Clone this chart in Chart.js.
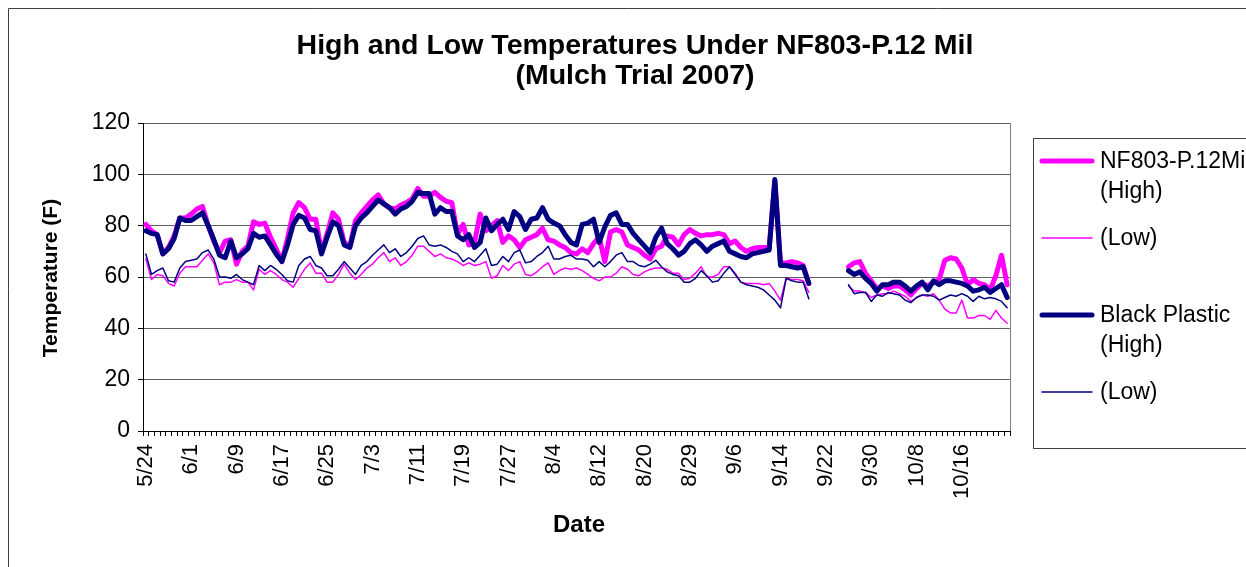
<!DOCTYPE html>
<html>
<head>
<meta charset="utf-8">
<title>High and Low Temperatures Under NF803-P.12 Mil</title>
<script src="https://cdn.jsdelivr.net/npm/chart.js@4.4.0/dist/chart.umd.min.js"></script>
<style>
  html, body { margin: 0; padding: 0; background: #fff; overflow: hidden; }
  canvas { display: block; }
</style>
</head>
<body>
<canvas id="chart" width="1246" height="567"></canvas>
<script>
// Daily readings, 5/24 - 10/24 2007 (one reading day missing in late August,
// logger offline 9/20 - 9/25).
const FIRST_DAY = [2007, 4, 24];
const MISSING_DAYS = ['8/25'];
const DAY_COUNT = 153;
const LABEL_EVERY = 8;
const LAST_LABELLED = 144;

const yTicks = { min: 0, max: 120, step: 20 };

const nfHigh = [
  80.5, 78, 76.5, 69, 71.5, 76, 83, 83, 84.5, 86.5, 87.5, 80, 74, 69.5, 74, 74.5, 65, 70, 72, 81.5,
  80.5, 81, 75.5, 71, 66, 75, 85, 89, 87, 82.5, 82.5, 69.5, 77, 85, 82.5, 73.5, 72, 82, 85, 87.5,
  90, 92, 88.5, 87, 86.5, 88, 89, 90.5, 94.5, 91.5, 91.5, 93, 91, 89.5, 89, 76.5, 80.5, 72.5, 73.5, 84.5,
  78, 80, 82, 73.5, 76, 74.5, 71.5, 74.5, 75.5, 76.5, 79, 74.5, 74, 72.5, 71.5, 69.5, 69, 71, 69.5, 73,
  75.5, 66, 77.5, 78.5, 77.5, 72.5, 71.5, 70.5, 68.5, 67, 71, 72, 76, 75.5, 72.5, 76.5, 78.5, 77, 76, 76.5,
  76.5, 77, 76.5, 73, 74, 71.5, 70, 71, 71.5, 71.5, 71.5, 97, 65.5, 65.5, 66, 65.5, 64.5, 57.5,
  null, null, null, null, null, null,
  64, 65.5, 66, 61.5, 58.5, 55.5, 56.5, 55.5, 56.5, 56.5, 55, 53, 55.5, 57.5, 56.5, 58, 59, 66.5, 67.5, 67,
  63.5, 57, 59, 57.5, 57, 55, 60.5, 68.5, 57
];

const nfLow = [
  67, 59, 61, 60.5, 57.5, 56.5, 61.5, 64, 64, 64, 66.5, 69, 65.5, 57, 58, 58, 59, 58, 58, 55,
  63, 61, 62.5, 61, 59, 58, 56, 59.5, 63, 65.5, 61.5, 61.5, 58, 58, 61, 65, 61.5, 59, 61, 63.5,
  65, 67.5, 69.5, 66, 67.5, 64.5, 66, 68.5, 72, 72, 70, 68, 69, 67.5, 67, 66, 64.5, 65.5, 64.5, 65,
  66, 59.5, 60.5, 64.5, 62.5, 65, 66, 61, 60.5, 62, 64, 65.5, 61, 62.5, 63.5, 63, 63.5, 62.5, 61, 59.5,
  58.5, 60, 60, 61.5, 64, 63, 61, 60.5, 62, 63, 63.5, 63.5, 63, 61.5, 61.5, 59, 59.5, 61.5, 64, 60,
  60, 61, 64, 64, 61.5, 58, 57.5, 57.5, 57.5, 57, 57.5, 54.5, 51, 59.5, 59, 59, 58.5, 54,
  null, null, null, null, null, null,
  56.5, 54.5, 54.5, 54, 52, 53, 53.5, 53.5, 54.5, 53.5, 52.5, 50.5, 52, 53, 52.5, 53.5, 51, 47.5, 46, 46,
  51, 44, 44, 45, 45, 43.5, 47, 44, 42
];

const bpHigh = [
  78, 77, 76.5, 69, 71, 75, 83, 82, 82, 83.5, 85, 80, 74.5, 68.5, 67.5, 74, 67.5, 69, 71, 77,
  75.5, 76, 72.5, 69, 66, 72.5, 80.5, 84, 83, 78.5, 78, 69, 75.5, 81.5, 80, 72.5, 71.5, 80, 83, 85,
  87.5, 90, 88.5, 87, 84.5, 86.5, 87.5, 89.5, 93, 92.5, 92.5, 84.5, 87, 85.5, 85.5, 76, 74.5, 76.5, 71.5, 73.5,
  83, 78, 80.5, 82.5, 78.5, 85.5, 83.5, 78.5, 82.5, 83, 87, 82.5, 81, 80, 76.5, 73.5, 72.5, 80.5, 81, 82.5,
  73.5, 79.5, 84, 85, 80.5, 80.5, 77, 74.5, 72, 69.5, 75.5, 79, 73, 71, 68.5, 70, 73, 74.5, 72.5, 70,
  72, 73, 74, 70, 69, 68, 67.5, 69, 69.5, 70, 70.5, 98, 64.5, 64.5, 64, 63.5, 64, 57.5,
  null, null, null, null, null, null,
  62.5, 61, 62, 59.5, 57.5, 54.5, 57, 57, 58, 58, 56.5, 54.5, 56.5, 58, 55, 58.5, 57, 58.5, 58.5, 58,
  57.5, 56.5, 54.5, 55, 56, 54, 55.5, 57, 52
];

const bpLow = [
  69, 61, 62.5, 63.5, 58.5, 58, 63.5, 66, 66.5, 67, 69.5, 70.5, 67, 60, 60, 59.5, 61, 59, 58, 57,
  64.5, 62.5, 64.5, 63, 61, 58.5, 58, 64.5, 67, 68, 64.5, 63.5, 60.5, 60.5, 63, 66, 63.5, 61, 64.5, 66,
  68.5, 70.5, 72.5, 69.5, 71, 68, 69.5, 72, 75, 76, 72.5, 72, 72.5, 71.5, 70, 69, 66, 67.5, 66, 68.5,
  71, 64.5, 65, 68, 66, 69.5, 70.5, 65.5, 66, 68, 69.5, 72, 67, 67, 68, 68.5, 67, 67, 66.5, 64,
  66, 64, 66, 68.5, 69.5, 66, 66, 64.5, 64, 65, 66.5, 64, 62, 61, 60.5, 58, 58, 59.5, 62.5, 60.5,
  58, 58.5, 61.5, 64, 61, 58, 57, 56.5, 56, 55, 53, 51, 48, 59.5, 58.5, 58, 58, 51.5,
  null, null, null, null, null, null,
  57, 53.5, 54, 54, 50.5, 53, 52.5, 54, 53.5, 53, 51, 50, 52, 53, 53, 52.5, 51, 52, 53, 52.5,
  53.5, 52.5, 50.5, 52.5, 51.5, 52, 51.5, 50.5, 48
];

const seriesNames = ['NF803-P.12Mil (High)', '(Low)', 'Black Plastic (High)', '(Low)'];
const legendLines = [['NF803-P.12Mil', '(High)'], ['(Low)'], ['Black Plastic', '(High)'], ['(Low)']];
const titleLines = ['High and Low Temperatures Under NF803-P.12 Mil', '(Mulch Trial 2007)'];
const yTitle = 'Temperature (F)';
const xTitle = 'Date';

// Reading-day labels (m/d)
function readingDays() {
  const out = [];
  for (let d = 0; out.length < DAY_COUNT; d++) {
    const dt = new Date(FIRST_DAY[0], FIRST_DAY[1], FIRST_DAY[2] + d);
    const s = (dt.getMonth() + 1) + '/' + dt.getDate();
    if (!MISSING_DAYS.includes(s)) out.push(s);
  }
  return out;
}
const days = readingDays();

const FONT = "'Liberation Sans', Arial, sans-serif";
const PINK = '#FF00FF';
const NAVY = '#000080';

const decorations = {
  id: 'decorations',
  beforeDraw(chart) {
    const { ctx, width, height } = chart;
    ctx.save();
    ctx.fillStyle = '#fff';
    ctx.fillRect(0, 0, width, height);
    ctx.restore();
  },
  afterDraw(chart) {
    const { ctx, chartArea: a } = chart;
    ctx.save();

    // plot-area right edge
    ctx.strokeStyle = '#808080';
    ctx.lineWidth = 1;
    ctx.beginPath();
    ctx.moveTo(Math.round(a.right) + 0.5, a.top);
    ctx.lineTo(Math.round(a.right) + 0.5, a.bottom);
    ctx.stroke();

    // chart frame
    ctx.strokeStyle = '#404040';
    ctx.beginPath();
    ctx.moveTo(8.5, chart.height + 2);
    ctx.lineTo(8.5, 8.5);
    ctx.lineTo(chart.width + 2, 8.5);
    ctx.stroke();

    // title
    ctx.fillStyle = '#000';
    ctx.textAlign = 'center';
    ctx.textBaseline = 'middle';
    ctx.font = `bold 28.5px ${FONT}`;
    ctx.fillText(titleLines[0], 635, 46);
    ctx.fillText(titleLines[1], 635, 76);

    // axis titles
    ctx.font = `bold 24px ${FONT}`;
    ctx.fillText(xTitle, 579, 525);
    ctx.font = `bold 21px ${FONT}`;
    ctx.save();
    ctx.translate(51, 278);
    ctx.rotate(-Math.PI / 2);
    ctx.fillText(yTitle, 0, 0);
    ctx.restore();

    // legend
    ctx.strokeStyle = '#404040';
    ctx.lineWidth = 1;
    ctx.strokeRect(1033.5, 138.5, 260, 310);
    const rows = [161, 238, 315, 392];
    ctx.textAlign = 'left';
    ctx.font = `23px ${FONT}`;
    chart.data.datasets.forEach((ds, i) => {
      const y = rows[i];
      ctx.strokeStyle = ds.borderColor;
      ctx.lineWidth = ds.borderWidth;
      ctx.lineCap = 'round';
      ctx.beginPath();
      ctx.moveTo(1042, y);
      ctx.lineTo(1092, y);
      ctx.stroke();
      ctx.fillStyle = '#000';
      legendLines[i].forEach((t, k) => ctx.fillText(t, 1100, y + 1 + k * 30));
    });
    ctx.restore();
  }
};

new Chart(document.getElementById('chart'), {
  type: 'line',
  data: {
    labels: days,
    datasets: [
      { label: seriesNames[0], data: nfHigh, borderColor: PINK, borderWidth: 5, order: 3 },
      { label: seriesNames[1], data: nfLow, borderColor: PINK, borderWidth: 1.5, order: 2 },
      { label: seriesNames[2], data: bpHigh, borderColor: NAVY, borderWidth: 5, order: 1 },
      { label: seriesNames[3], data: bpLow, borderColor: NAVY, borderWidth: 1.5, order: 0 }
    ]
  },
  options: {
    responsive: false,
    animation: false,
    devicePixelRatio: 1,
    layout: { padding: { left: 0, right: 236, top: 123, bottom: 0 } },
    elements: {
      point: { radius: 0, hoverRadius: 0 },
      line: { tension: 0, borderJoinStyle: 'round', borderCapStyle: 'round', spanGaps: false }
    },
    plugins: {
      legend: { display: false },
      title: { display: false },
      tooltip: { enabled: false }
    },
    scales: {
      x: {
        type: 'category',
        offset: true,
        grid: { offset: true, drawOnChartArea: false, drawTicks: true, tickLength: 5, tickColor: '#000' },
        border: { color: '#000', width: 1 },
        ticks: {
          autoSkip: false,
          minRotation: 90,
          maxRotation: 90,
          padding: 8,
          color: '#000',
          font: { family: FONT, size: 22 },
          callback: (v, i) => (i % LABEL_EVERY === 0 && i <= LAST_LABELLED) ? days[i] : ''
        },
        afterFit: s => { s.height = 136; }
      },
      y: {
        min: yTicks.min,
        max: yTicks.max,
        grid: { color: '#606060', lineWidth: 1, tickLength: 5, tickColor: '#000' },
        border: { color: '#000', width: 1 },
        ticks: {
          stepSize: yTicks.step,
          padding: 8,
          color: '#000',
          font: { family: FONT, size: 23 }
        },
        afterFit: s => { s.width = 143; }
      }
    }
  },
  plugins: [decorations]
});
</script>
</body>
</html>
